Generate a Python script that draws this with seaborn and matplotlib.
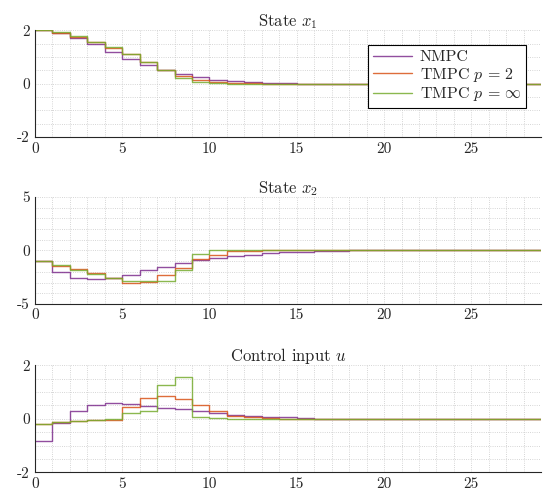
import numpy as np
import pandas as pd
import seaborn as sns
import matplotlib.pyplot as plt
from matplotlib.ticker import MultipleLocator

# time steps
k = list(range(30))

# state x1
x1_nmpc = [2.0, 1.91, 1.72, 1.47, 1.19, 0.92, 0.69, 0.50, 0.35, 0.25, 0.15, 0.09, 0.05, 0.03, 0.01] + [0.0] * 15
x1_tmpc2 = [2.0, 1.91, 1.75, 1.55, 1.35, 1.10, 0.82, 0.50, 0.30, 0.12, 0.05, 0.02, 0.01] + [0.0] * 17
x1_tmpcinf = [2.0, 1.92, 1.77, 1.57, 1.38, 1.12, 0.82, 0.52, 0.22, 0.05, 0.01] + [0.0] * 19

# state x2
x2_nmpc = [-1.0, -2.06, -2.55, -2.68, -2.6, -2.28, -1.85, -1.54, -1.14, -0.92, -0.68, -0.52, -0.40, -0.28, -0.18, -0.10, -0.05, -0.02] + [0.0] * 12
x2_tmpc2 = [-1.0, -1.45, -1.75, -2.15, -2.6, -3.0, -2.95, -2.3, -1.6, -0.8, -0.4, -0.05, -0.01] + [0.0] * 17
x2_tmpcinf = [-1.0, -1.4, -1.78, -2.2, -2.55, -2.88, -2.88, -2.9, -1.85, -0.35, 0.0] + [0.0] * 19

# control input u
u_nmpc = [-0.82, -0.15, 0.30, 0.52, 0.60, 0.56, 0.48, 0.42, 0.35, 0.28, 0.22, 0.15, 0.11, 0.08, 0.05, 0.03, 0.01] + [0.0] * 13
u_tmpc2 = [-0.2, -0.13, -0.07, -0.03, -0.03, 0.45, 0.77, 0.85, 0.75, 0.50, 0.30, 0.10, 0.05, 0.02] + [0.0] * 16
u_tmpcinf = [-0.2, -0.13, -0.08, -0.05, 0.0, 0.22, 0.30, 1.25, 1.55, 0.05, 0.02] + [0.0] * 19

labels = ['NMPC', 'TMPC $p\\,=\\,2$', 'TMPC $p\\,=\\,\\infty$']
colors = ['#7E2F8E', '#D95319', '#77AC30']

sns.set_style("white")
plt.rcParams['font.family'] = ['cmr10', 'DejaVu Serif']
plt.rcParams['mathtext.fontset'] = 'cm'
plt.rcParams['axes.unicode_minus'] = False
plt.rcParams['axes.formatter.use_mathtext'] = False


def make_df(series):
    frames = []
    for lab, vals in zip(labels, series):
        frames.append(pd.DataFrame({'k': k, 'value': vals, 'method': lab}))
    return pd.concat(frames, ignore_index=True)


panels = [
    ("State $x_1$", [x1_nmpc, x1_tmpc2, x1_tmpcinf], (-2, 2), 0.5),
    ("State $x_2$", [x2_nmpc, x2_tmpc2, x2_tmpcinf], (-5, 5), 1.0),
    ("Control input $u$", [u_nmpc, u_tmpc2, u_tmpcinf], (-2, 2), 0.5),
]

fig = plt.figure(figsize=(5.45, 5.04), dpi=100)
boxes = [[0.064, 0.728, 0.929, 0.212],
         [0.064, 0.397, 0.929, 0.212],
         [0.064, 0.063, 0.929, 0.212]]

for i, (title, series, ylim, yminor) in enumerate(panels):
    ax = fig.add_axes(boxes[i])
    df = make_df(series)
    sns.lineplot(data=df, x='k', y='value', hue='method', palette=colors,
                 drawstyle='steps-post', linewidth=1.0, alpha=0.85, ax=ax,
                 legend=(i == 0))
    ax.set_xlim(0, 29)
    ax.set_ylim(*ylim)
    ax.set_xticks([0, 5, 10, 15, 20, 25])
    ax.set_yticks([ylim[0], 0, ylim[1]])
    ax.xaxis.set_minor_locator(MultipleLocator(1))
    ax.yaxis.set_minor_locator(MultipleLocator(yminor))
    ax.grid(True, which='both', linestyle=':', linewidth=0.6, color='#c8c8c8')
    ax.set_xlabel('')
    ax.set_ylabel('')
    ax.set_title(title, fontsize=12, pad=3)
    ax.tick_params(direction='in', length=3, labelsize=11, which='major',
                   colors='#262626')
    ax.tick_params(which='minor', length=0)
    for s in ['top', 'right']:
        ax.spines[s].set_visible(False)
    for s in ['left', 'bottom']:
        ax.spines[s].set_color('#262626')
        ax.spines[s].set_linewidth(0.8)
    if i == 0:
        leg = ax.legend(loc='upper right', bbox_to_anchor=(0.97, 0.86),
                        borderaxespad=0, fontsize=11.5, fancybox=False,
                        framealpha=1, edgecolor='black', borderpad=0.3,
                        labelspacing=0.1, handlelength=2.4,
                        handletextpad=0.5, title=None)
        leg.get_frame().set_linewidth(0.8)

fig.savefig('out.png', dpi=100)
